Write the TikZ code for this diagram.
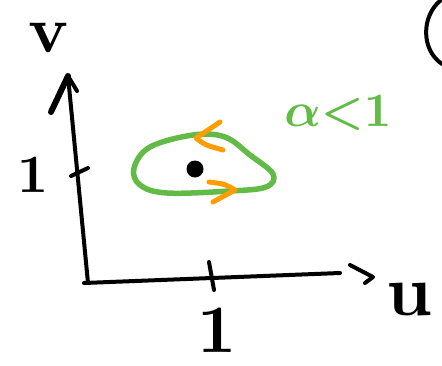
\documentclass[tikz,border=0pt]{standalone}
\usepackage{tikz}
\definecolor{penGreen}{RGB}{98,187,70}
\definecolor{penOrange}{RGB}{255,157,0}
\tikzset{
  ink/.style={line width=4pt,line cap=round,line join=round,black},
  greenpen/.style={line width=5.5pt,line cap=round,line join=round,penGreen},
  orangepen/.style={line width=5pt,line cap=round,line join=round,penOrange},
  lbl/.style={inner sep=0pt,outer sep=0pt,font=\bfseries},
}
\begin{document}
\begin{tikzpicture}[x=1pt,y=-1pt]
\useasboundingbox (0,0) rectangle (442,365);
% axes
\coordinate (O) at (84,283);
\coordinate (vtop) at (68,76);
\coordinate (vbot) at (88,283);
\coordinate (uend) at (340,273);
\draw[ink] (vbot) -- (vtop);
\draw[ink] (O) -- (uend);
% vertical arrow head
\coordinate (vbl) at (51,112);
\coordinate (vbr) at (77,91);
\draw[ink] (vtop) -- (vbr);
\draw[ink,line width=6pt] (vtop) -- (vbl);
% horizontal arrow head (separate stroke)
\coordinate (ha) at (350,265);
\coordinate (hb) at (373,277);
\coordinate (hc) at (365,283);
\draw[ink] (ha) -- (hb) -- (hc);
% ticks
\coordinate (vt1) at (71,176);
\coordinate (vt2) at (88,168);
\draw[ink] (vt1) -- (vt2);
\coordinate (ut1) at (209,262);
\coordinate (ut2) at (214,290);
\draw[ink] (ut1) -- (ut2);
% labels
\node[lbl,scale=6.6] (vlab) at (49,38) {v};
\node[lbl,scale=7.2] (ulab) at (410,300) {u};
\node[lbl,scale=5.4] (one1) at (33,175) {1};
\node[lbl,scale=6.8] (one2) at (217,330) {1};
\node[inner sep=0pt,outer sep=0pt,scale=4.8,text=penGreen,font=\boldmath] (alab) at (338,113) {$\alpha{<}1$};
% green loop
\draw[greenpen] plot[smooth cycle,tension=0.6] coordinates
  {(134,168) (150,147) (193,135) (225,137) (250,155) (273,174) (266,187) (230,191) (167,193) (140,185)};
% dot
\node[circle,fill=black,minimum size=17pt,inner sep=0pt] (dot) at (195,169) {};
% orange arrows
\coordinate (oa1) at (220,122);
\coordinate (oa2) at (196,138);
\coordinate (oa3) at (223,150);
\draw[orangepen] (oa1) -- (oa2) .. controls (205,145) .. (oa3);
\coordinate (ob1) at (209,182);
\coordinate (ob2) at (235,190);
\coordinate (ob3) at (213,202);
\draw[orangepen] (ob1) .. controls (225,184) .. (ob2) -- (ob3);
% partial bracket at top right
\coordinate (br1) at (441,0);
\coordinate (br2) at (442,64);
\draw[ink] (br1) .. controls (421,16) and (421,50) .. (br2);
\end{tikzpicture}
\end{document}
